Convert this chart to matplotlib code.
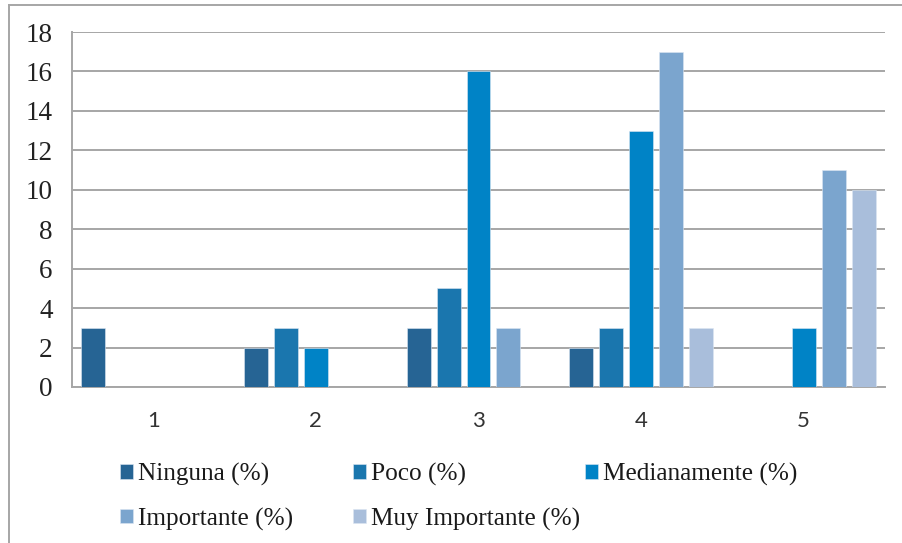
import matplotlib
matplotlib.use("Agg")
import matplotlib.pyplot as plt
from matplotlib.lines import Line2D
import numpy as np

categories = ["1", "2", "3", "4", "5"]
series_names = ["Ninguna (%)", "Poco (%)", "Medianamente (%)",
                "Importante (%)", "Muy Importante (%)"]
ninguna = [3, 2, 3, 2, 0]
poco = [0, 3, 5, 3, 0]
medianamente = [0, 2, 16, 13, 3]
importante = [0, 0, 3, 17, 11]
muy_importante = [0, 0, 0, 3, 10]
y_ticks = [0, 2, 4, 6, 8, 10, 12, 14, 16, 18]

series_values = [ninguna, poco, medianamente, importante, muy_importante]
colors = ["#266494", "#1A76AE", "#0083C6", "#7BA5CE", "#A9BEDB"]

serif = ["Liberation Serif", "DejaVu Serif"]
sans = ["Lato", "DejaVu Sans"]

fig = plt.figure(figsize=(9.02, 5.43), dpi=100)
ax = fig.add_axes([72 / 902, 1 - 387 / 543, (885 - 72) / 902, (387 - 32) / 543])

x = np.arange(len(categories))
step = 0.1845
width = 0.1476
handles = []
for i, (name, vals, col) in enumerate(zip(series_names, series_values, colors)):
    b = ax.bar(x + (i - 2) * step, vals, width=width, color=col,
               edgecolor="#DCE6F2", linewidth=0.4, label=name, zorder=3)
    handles.append(b)

ax.set_xlim(-0.5, len(categories) - 0.5)
ax.set_ylim(0, 18)
ax.set_yticks(y_ticks)
ax.set_yticklabels([str(v) for v in y_ticks], fontfamily=serif, fontsize=19.5)
ax.set_xticks(x)
ax.set_xticklabels(categories, fontfamily=sans, fontsize=16, color="#333333")
ax.tick_params(axis="y", length=0, pad=14, colors="#222222")
ax.tick_params(axis="x", length=0, pad=17)
ax.yaxis.grid(True, color="#A6A6A6", linewidth=1.4, zorder=0)
ax.set_axisbelow(True)
for s in ["top", "right"]:
    ax.spines[s].set_visible(False)
ax.spines["left"].set_color("#A6A6A6")
ax.spines["left"].set_linewidth(1.4)
ax.spines["bottom"].set_color("#A6A6A6")
ax.spines["bottom"].set_linewidth(1.4)

# Legend laid out in three fixed-width columns
columns = [([0, 3], 120), ([1, 4], 353), ([2], 585)]
for idx, xpix in columns:
    leg = fig.legend([handles[k] for k in idx], [series_names[k] for k in idx],
                     loc="upper left", bbox_to_anchor=(xpix / 902, 1 - 463 / 543),
                     bbox_transform=fig.transFigure, frameon=False,
                     prop={"family": serif, "size": 18.2}, handlelength=0.5,
                     handleheight=0.5, handletextpad=0.2, labelspacing=0.85,
                     borderpad=0, borderaxespad=0)
    for t in leg.get_texts():
        t.set_color("#1a1a1a")

# Outer chart frame (top and left edges)
fig.add_artist(Line2D([9 / 902, 1.0], [1 - 5 / 543, 1 - 5 / 543],
                      transform=fig.transFigure, color="#A6A6A6", linewidth=1.4))
fig.add_artist(Line2D([9 / 902, 9 / 902], [1 - 5 / 543, 0.0],
                      transform=fig.transFigure, color="#A6A6A6", linewidth=1.4))

fig.savefig("out.png", dpi=100)
